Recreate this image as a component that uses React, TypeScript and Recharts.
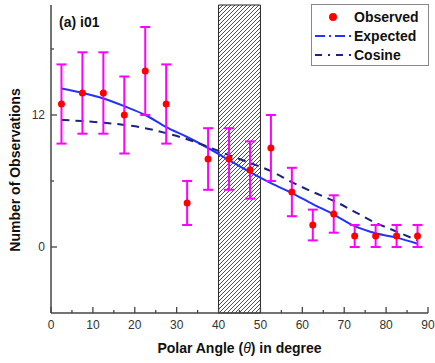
import { ComposedChart, Line, Scatter, ErrorBar, XAxis, YAxis, ReferenceArea } from 'recharts';

// Bin centres (degrees)
const angles = [2.5, 7.5, 12.5, 17.5, 22.5, 27.5, 32.5, 37.5, 42.5, 47.5, 52.5, 57.5, 62.5, 67.5, 72.5, 77.5, 82.5, 87.5];
// Observed counts and their error bars
const observed = [13, 14, 14, 12, 16, 13, 4, 8, 8, 7, 9, 5, 2, 3, 1, 1, 1, 1];
const errors = [3.6, 3.7, 3.7, 3.5, 4.0, 3.6, 2.0, 2.8, 2.8, 2.6, 3.0, 2.2, 1.4, 1.7, 1.0, 1.0, 1.0, 1.0];
// Model curves
const expected = [14.4, 14.0, 13.5, 12.8, 12.0, 10.9, 10.0, 9.0, 7.9, 6.8, 5.8, 4.9, 3.9, 2.95, 1.9, 1.25, 0.85, 0.3];
const cosine = [11.55, 11.45, 11.3, 11.1, 10.8, 10.35, 9.8, 9.1, 8.35, 7.65, 6.9, 5.9, 5.0, 4.2, 3.2, 2.2, 1.4, 0.6];

const xTicks = [0, 5, 10, 15, 20, 25, 30, 35, 40, 45, 50, 55, 60, 65, 70, 75, 80, 85, 90];
const yTicks = [0, 6, 12, 18];

const data = angles.map((a, i) => ({
  angle: a,
  observed: observed[i],
  err: errors[i],
  expected: expected[i],
  cosine: cosine[i],
}));

const AXIS = '#444';
const FONT = '"Liberation Sans", Arial, sans-serif';

function BottomTick(props: any) {
  const { x, y, payload } = props;
  const major = payload.value % 10 === 0;
  return (
    <g>
      <line x1={x} x2={x} y1={y} y2={y - (major ? 6 : 3)} stroke={AXIS} strokeWidth={1.3} />
      {major && (
        <text x={x} y={y + 16} textAnchor="middle" fontSize={12} fill="#333" fontFamily={FONT}>
          {payload.value}
        </text>
      )}
    </g>
  );
}

function TopTick(props: any) {
  const { x, y, payload } = props;
  const major = payload.value % 10 === 0;
  return <line x1={x} x2={x} y1={y} y2={y + (major ? 6 : 3)} stroke={AXIS} strokeWidth={1.3} />;
}

function LeftTick(props: any) {
  const { x, y, payload } = props;
  const major = payload.value % 12 === 0;
  return (
    <g>
      <line x1={x} x2={x + (major ? 6 : 3)} y1={y} y2={y} stroke={AXIS} strokeWidth={1.3} />
      {major && (
        <text x={x - 6} y={y + 4} textAnchor="end" fontSize={12} fill="#333" fontFamily={FONT}>
          {payload.value}
        </text>
      )}
    </g>
  );
}

function RightTick(props: any) {
  const { x, y, payload } = props;
  const major = payload.value % 12 === 0;
  return <line x1={x} x2={x - (major ? 6 : 3)} y1={y} y2={y} stroke={AXIS} strokeWidth={1.3} />;
}

function XTitle(props: any) {
  const { viewBox } = props;
  return (
    <text x={viewBox.x + viewBox.width / 2} y={353} textAnchor="middle" fontSize={14} fontWeight="bold" fill="#111" fontFamily={FONT}>
      Polar Angle (<tspan fontStyle="italic" fontWeight="normal">θ</tspan>) in degree
    </text>
  );
}

function YTitle() {
  return (
    <text x={20} y={170} transform="rotate(-90 20 170)" textAnchor="middle" fontSize={14} fontWeight="bold" fill="#111" fontFamily={FONT}>
      Number of Observations
    </text>
  );
}

function LegendBox() {
  const row = { display: 'flex', alignItems: 'center', height: 19 } as const;
  return (
    <div style={{ position: 'absolute', left: 311, top: 4, width: 118, height: 62, border: '1px solid #888', background: '#fff', boxSizing: 'border-box', fontFamily: FONT, fontWeight: 'bold', fontSize: 14, color: '#111', paddingTop: 2 }}>
      <div style={row}>
        <svg width={42} height={12}><circle cx={21} cy={6} r={4} fill="#ff0000" /></svg>
        <span>Observed</span>
      </div>
      <div style={row}>
        <svg width={42} height={12}><line x1={3} x2={40} y1={6} y2={6} stroke="#2233ff" strokeWidth={2} strokeDasharray="10 4 2 4" /></svg>
        <span>Expected</span>
      </div>
      <div style={row}>
        <svg width={42} height={12}><line x1={3} x2={40} y1={6} y2={6} stroke="#1a237e" strokeWidth={2} strokeDasharray="7 6 2 6" /></svg>
        <span>Cosine</span>
      </div>
    </div>
  );
}

export default function App() {
  return (
    <div style={{ position: 'absolute', left: 0, top: 0, width: 435, height: 363, background: '#fff' }}>
      <ComposedChart width={435} height={363} data={data} margin={{ top: 5, right: 7, bottom: 0, left: 0 }}>
        <defs>
          <pattern id="hatch" patternUnits="userSpaceOnUse" width={4} height={4}>
            <rect width={4} height={4} fill="#fff" />
            <path d="M-1,1 l2,-2 M0,4 l4,-4 M3,5 l2,-2" stroke="#222" strokeWidth={0.8} />
          </pattern>
        </defs>
        <XAxis
          dataKey="angle"
          type="number"
          domain={[0, 90]}
          ticks={xTicks}
          interval={0}
          height={50}
          tickSize={0}
          tickMargin={0}
          tickLine={false}
          tick={<BottomTick />}
          axisLine={{ stroke: AXIS, strokeWidth: 1.5 }}
          label={{ content: XTitle }}
        />
        <XAxis
          xAxisId="top"
          orientation="top"
          type="number"
          dataKey="angle"
          domain={[0, 90]}
          ticks={xTicks}
          interval={0}
          height={0}
          tickSize={0}
          tickMargin={0}
          tickLine={false}
          tick={<TopTick />}
          axisLine={{ stroke: AXIS, strokeWidth: 1.5 }}
        />
        <YAxis
          type="number"
          domain={[-6, 22]}
          ticks={yTicks}
          interval={0}
          width={51}
          tickSize={0}
          tickMargin={0}
          tickLine={false}
          tick={<LeftTick />}
          axisLine={{ stroke: AXIS, strokeWidth: 1.5 }}
          label={{ content: YTitle }}
        />
        <YAxis
          yAxisId="right"
          orientation="right"
          type="number"
          domain={[-6, 22]}
          ticks={yTicks}
          interval={0}
          width={0}
          tickSize={0}
          tickMargin={0}
          tickLine={false}
          tick={<RightTick />}
          axisLine={{ stroke: AXIS, strokeWidth: 1.5 }}
        />
        <ReferenceArea x1={40} x2={50} y1={-6} y2={22} fill="url(#hatch)" fillOpacity={1} stroke="#222" strokeWidth={1} />
        <Line type="monotone" dataKey="expected" stroke="#2233ff" strokeWidth={2} dot={false} isAnimationActive={false} />
        <Line type="monotone" dataKey="cosine" stroke="#1a237e" strokeWidth={2} strokeDasharray="8 6" dot={false} isAnimationActive={false} />
        <Scatter dataKey="observed" fill="#ff0000" shape={(p: any) => <circle cx={p.cx} cy={p.cy} r={3.5} fill="#ff0000" />} isAnimationActive={false}>
          <ErrorBar dataKey="err" direction="y" stroke="#ff00ff" strokeWidth={2} width={5} />
        </Scatter>
      </ComposedChart>
      <LegendBox />
      <div style={{ position: 'absolute', left: 59, top: 14, fontFamily: FONT, fontWeight: 'bold', fontSize: 14, color: '#111' }}>
        (a) i01
      </div>
    </div>
  );
}
